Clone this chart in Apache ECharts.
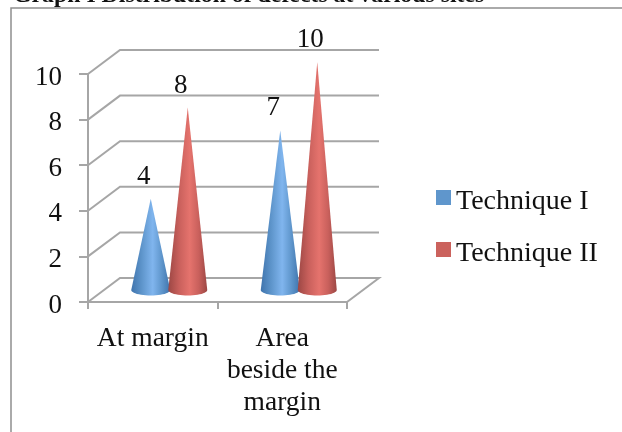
<!DOCTYPE html>
<html>
<head>
<meta charset="utf-8">
<style>
  html, body { margin: 0; padding: 0; background: #fff; }
  #chart { width: 622px; height: 432px; }
</style>
<script src="https://cdn.jsdelivr.net/npm/echarts@6/dist/echarts.min.js"></script>
</head>
<body>
<div id="chart"></div>
<script>
const categories = ['At margin', 'Area\nbeside the\nmargin'];
const techniqueOne = [4, 7];
const techniqueTwo = [8, 10];
const yTicks = [0, 2, 4, 6, 8, 10];

const FONT = '"Liberation Serif", serif';
const GRID_COLOR = '#a6a6a6';
// depth of the fake 3d box, in pixels
const DEPTH_X = 32;
const DEPTH_Y = 24;

function wallItem(params, api) {
  const v = api.value(0);
  const y = api.coord([0, v])[1];
  const x0 = params.coordSys.x;
  const x1 = params.coordSys.x + params.coordSys.width;
  const points = [
    [x0, y],
    [x0 + DEPTH_X, y - DEPTH_Y],
    [x1 + DEPTH_X, y - DEPTH_Y]
  ];
  // the floor also closes along the front edge
  if (v === 0) {
    points.push([x1, y]);
    points.push([x0, y]);
  }
  return {
    type: 'polyline',
    shape: { points: points },
    style: { stroke: GRID_COLOR, lineWidth: 2, fill: null }
  };
}

function coneRenderer(shift, edge, body, mid) {
  return function (params, api) {
    const cat = api.value(0);
    const top = api.coord([cat, api.value(1)]);
    const base = api.coord([cat, 0]);
    const cx = top[0] + DEPTH_X / 2 + shift;
    const baseY = base[1] - DEPTH_Y / 2;
    const topY = top[1] - DEPTH_Y / 2;
    const rx = 19.5;
    const ry = 5.5;
    const points = [[cx, topY]];
    for (let a = 0; a <= 24; a++) {
      const t = Math.PI * a / 24;
      points.push([cx + rx * Math.cos(t), baseY + ry * Math.sin(t)]);
    }
    return {
      type: 'group',
      children: [
        {
          type: 'polygon',
          shape: { points: points },
          style: {
            fill: {
              type: 'linear',
              x: 0, y: 0, x2: 1, y2: 0,
              colorStops: [
                { offset: 0, color: edge },
                { offset: 0.28, color: body },
                { offset: 0.55, color: mid },
                { offset: 0.78, color: body },
                { offset: 1, color: edge }
              ]
            }
          }
        },
        {
          type: 'text',
          style: {
            x: cx - 7,
            y: topY - 22,
            text: String(api.value(1)),
            font: '27px ' + FONT,
            fill: '#111',
            align: 'center',
            verticalAlign: 'middle'
          }
        }
      ]
    };
  };
}

const chart = echarts.init(document.getElementById('chart'));
chart.setOption({
  animation: false,
  backgroundColor: '#fff',
  title: {
    text: 'Graph I Distribution of defects at various sites',
    left: 8,
    top: -21,
    textStyle: { fontFamily: FONT, fontSize: 23.8, fontWeight: 'bold', color: '#111' }
  },
  graphic: [
    {
      type: 'rect',
      shape: { x: 11, y: 8, width: 640, height: 460 },
      style: { fill: null, stroke: '#8e8e8e', lineWidth: 1.5 },
      z: -1
    }
  ],
  legend: {
    data: ['Technique I', 'Technique II'],
    orient: 'vertical',
    left: 431,
    top: 182.5,
    icon: 'rect',
    itemWidth: 15,
    itemHeight: 15,
    itemGap: 24,
    selectedMode: false,
    formatter: '{a|{name}}',
    textStyle: {
      rich: {
        a: { fontFamily: FONT, fontSize: 28, color: '#111', padding: [8, 0, 0, 0] }
      }
    }
  },
  grid: { left: 88, right: 275, top: 74, bottom: 130 },
  xAxis: {
    type: 'category',
    data: categories,
    axisLine: { lineStyle: { color: GRID_COLOR, width: 2 } },
    axisTick: { show: true, length: 7, lineStyle: { color: GRID_COLOR, width: 2 } },
    axisLabel: { fontFamily: FONT, fontSize: 27.5, color: '#111', lineHeight: 32, margin: 21, interval: 0 }
  },
  yAxis: {
    type: 'value',
    min: 0,
    max: 10,
    interval: 2,
    axisLine: { show: true, lineStyle: { color: GRID_COLOR, width: 2 } },
    axisTick: { show: true, length: 9, lineStyle: { color: GRID_COLOR, width: 2 } },
    axisLabel: { fontFamily: FONT, fontSize: 27, color: '#111', margin: 26, verticalAlign: 'top', lineHeight: 7 },
    splitLine: { show: false }
  },
  series: [
    {
      name: 'walls',
      type: 'custom',
      data: yTicks.map(function (v) { return [v]; }),
      encode: { y: 0 },
      renderItem: wallItem,
      silent: true,
      z: 1
    },
    {
      name: 'Technique I',
      type: 'custom',
      itemStyle: { color: '#5f96cc' },
      data: techniqueOne.map(function (v, i) { return [i, v]; }),
      encode: { x: 0, y: 1 },
      renderItem: coneRenderer(-18, '#3f74ad', '#5f96cc', '#80b5ee'),
      z: 2
    },
    {
      name: 'Technique II',
      type: 'custom',
      itemStyle: { color: '#cb625d' },
      data: techniqueTwo.map(function (v, i) { return [i, v]; }),
      encode: { x: 0, y: 1 },
      renderItem: coneRenderer(19, '#9c4744', '#c9605c', '#e5736d'),
      z: 3
    }
  ]
});
</script>
</body>
</html>
